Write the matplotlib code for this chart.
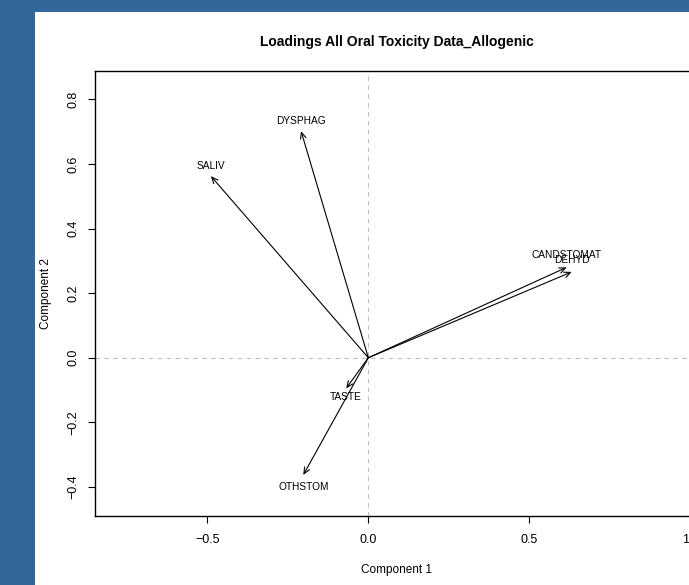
import matplotlib
matplotlib.use('Agg')
import matplotlib.pyplot as plt
from matplotlib.patches import Rectangle

# Data
variables = ['DYSPHAG', 'SALIV', 'CANDSTOMAT', 'DEHYD', 'TASTE', 'OTHSTOM']
comp1 = [-0.209, -0.489, 0.616, 0.632, -0.069, -0.202]
comp2 = [0.702, 0.5625, 0.280, 0.266, -0.095, -0.363]
label_y = [0.733, 0.593, 0.318, 0.304, -0.123, -0.399]
xticks = [-0.5, 0.0, 0.5, 1.0]
xticklabels = ['\u22120.5', '0.0', '0.5', '1.0']
yticks = [-0.4, -0.2, 0.0, 0.2, 0.4, 0.6, 0.8]
yticklabels = ['\u22120.4', '\u22120.2', '0.0', '0.2', '0.4', '0.6', '0.8']

plt.rcParams['font.family'] = ['Liberation Sans', 'DejaVu Sans']

W, H = 689, 585
fig = plt.figure(figsize=(W / 100, H / 100), dpi=100)
fig.patch.set_facecolor('#336699')
fig.patches.append(Rectangle((35 / W, 0), 1 - 35 / W, 1 - 12 / H,
                             transform=fig.transFigure, facecolor='white',
                             edgecolor='none', zorder=-10))

left, right, top, bottom = 95, 698, 71, 516
ax = fig.add_axes([left / W, (H - bottom) / H, (right - left) / W, (bottom - top) / H])
ax.set_xlim(-0.849, 1.024)
ax.set_ylim(-0.49, 0.888)

ax.axhline(0, color='#BEBEBE', lw=0.8, ls=(0, (4, 4)), zorder=1)
ax.axvline(0, color='#BEBEBE', lw=0.8, ls=(0, (4, 4)), zorder=1)

for name, x, y, ly in zip(variables, comp1, comp2, label_y):
    ax.annotate('', xy=(x, y), xytext=(0, 0),
                arrowprops=dict(arrowstyle='->,head_length=0.45,head_width=0.2',
                                color='black', lw=0.8, shrinkA=0, shrinkB=0))
    ax.text(x, ly, name, ha='center', va='center', fontsize=7.3)

for s in ax.spines.values():
    s.set_linewidth(1.0)
    s.set_color('black')

ax.set_xticks(xticks)
ax.set_xticklabels(xticklabels)
ax.set_yticks(yticks)
ax.set_yticklabels(yticklabels, rotation=90, va='center')
ax.tick_params(axis='both', direction='out', length=5, width=0.8, labelsize=9)
ax.tick_params(axis='x', pad=8)
ax.tick_params(axis='y', pad=6)

ax.set_xlabel('Component 1', fontsize=8.5, labelpad=13)
ax.set_ylabel('Component 2', fontsize=8.5, labelpad=11)
ax.set_title('Loadings All Oral Toxicity Data_Allogenic', fontsize=10,
             fontweight='bold', pad=18)

fig.savefig('out.png', dpi=100)
